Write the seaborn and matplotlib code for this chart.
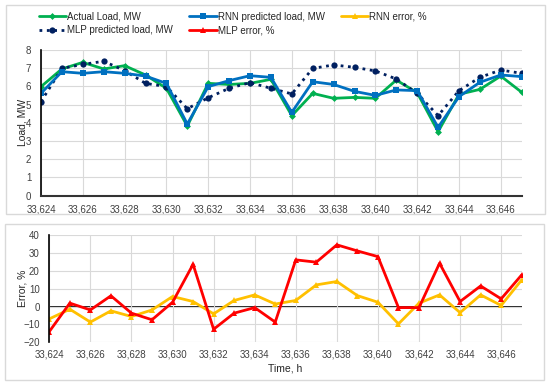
import matplotlib
matplotlib.use("Agg")
import matplotlib.pyplot as plt
import matplotlib.patches as patches
import numpy as np
import pandas as pd
import seaborn as sns

# data
hours = list(range(33624, 33648))
actual_load = [5.98, 6.95, 7.31, 6.95, 7.13, 6.62, 5.89, 3.82, 6.16, 6.10, 6.16, 6.38,
               4.39, 5.61, 5.34, 5.39, 5.34, 6.34, 5.65, 3.51, 5.56, 5.83, 6.56, 5.67]
rnn_load = [5.61, 6.80, 6.71, 6.80, 6.71, 6.56, 6.16, 3.93, 5.98, 6.31, 6.58, 6.49,
            4.57, 6.25, 6.10, 5.72, 5.50, 5.80, 5.76, 3.75, 5.43, 6.22, 6.62, 6.53]
mlp_load = [5.16, 6.98, 7.20, 7.37, 6.86, 6.16, 5.98, 4.77, 5.37, 5.89, 6.20, 5.89,
            5.58, 6.98, 7.17, 7.04, 6.84, 6.40, 5.61, 4.39, 5.76, 6.49, 6.89, 6.71]
rnn_error = [-6.9, -1.5, -8.7, -2.4, -5.6, -1.9, 5.6, 2.8, -4.1, 3.4, 6.5, 1.4,
             3.4, 12.1, 14.0, 6.1, 2.4, -9.7, 1.9, 6.5, -3.4, 6.5, 0.6, 14.9]
mlp_error = [-14.0, 1.9, -1.9, 6.0, -3.7, -7.4, 2.4, 23.6, -12.7, -3.7, -0.6, -8.7,
             26.1, 24.8, 34.5, 31.1, 27.9, -0.6, -0.6, 24.2, 2.8, 11.5, 4.3, 17.7]

tick_hours = hours[::2]
tick_labels = [f"{h:,}" for h in tick_hours]

df = pd.DataFrame({"hour": hours, "actual": actual_load, "rnn": rnn_load, "mlp": mlp_load,
                   "rnn_err": rnn_error, "mlp_err": mlp_error})

sns.set_style("white")
plt.rcParams['font.family'] = ['Liberation Sans', 'DejaVu Sans']

fig = plt.figure(figsize=(5.5, 3.86), dpi=100)
W, H = 550.0, 386.0

# panel frames
for (x0, y0, x1, y1) in [(6, 5, 545, 214), (5, 224, 544, 380)]:
    fig.patches.append(patches.Rectangle((x0 / W, 1 - y1 / H), (x1 - x0) / W, (y1 - y0) / H,
                                         transform=fig.transFigure, fill=False,
                                         edgecolor="#d9d9d9", linewidth=1.0))

grid_c = "#d9d9d9"
green = "#00b050"
blue = "#0070c0"
navy = "#002060"
yellow = "#ffc000"
red = "#ff0000"
tick_c = "#404040"

# top chart: load
ax1 = fig.add_axes([41 / W, 1 - 195.7 / H, (521.7 - 41) / W, (195.7 - 49.8) / H])
sns.lineplot(data=df, x="hour", y="actual", ax=ax1, color=green, lw=2, marker="D",
             markersize=3.5, markeredgewidth=0, label="Actual Load, MW")
sns.lineplot(data=df, x="hour", y="mlp", ax=ax1, color=navy, lw=2, ls=":", marker="o",
             markersize=4.5, markeredgewidth=0, label="MLP predicted load, MW")
sns.lineplot(data=df, x="hour", y="rnn", ax=ax1, color=blue, lw=2, marker="s",
             markersize=4.5, markeredgewidth=0, label="RNN predicted load, MW")
ax1.set_xlim(hours[0], hours[-1])
ax1.set_ylim(0, 8)
ax1.set_xticks(tick_hours)
ax1.set_xticklabels(tick_labels)
ax1.set_yticks(range(0, 9))
ax1.set_xlabel("")
ax1.set_ylabel("Load, MW", fontsize=7.5, labelpad=-1)
ax1.grid(True, color=grid_c, lw=0.8)
ax1.set_axisbelow(True)
for s in ["top", "right"]:
    ax1.spines[s].set_visible(False)
ax1.spines["left"].set_color("black")
ax1.spines["left"].set_linewidth(1.2)
ax1.spines["bottom"].set_color("#333333")
ax1.spines["bottom"].set_linewidth(1.5)
ax1.tick_params(axis="both", length=0, labelsize=7, colors=tick_c)
ax1.tick_params(axis="x", pad=6)
ax1.tick_params(axis="y", pad=7)
h1, l1 = ax1.get_legend_handles_labels()
ax1.get_legend().remove()

# bottom chart: error
ax2 = fig.add_axes([49.3 / W, 1 - 342.3 / H, (521.7 - 49.3) / W, (342.3 - 235) / H])
sns.lineplot(data=df, x="hour", y="mlp_err", ax=ax2, color=red, lw=2, marker="^",
             markersize=5, markeredgewidth=0, label="MLP error, %")
sns.lineplot(data=df, x="hour", y="rnn_err", ax=ax2, color=yellow, lw=2, marker="^",
             markersize=5, markeredgewidth=0, label="RNN error, %", zorder=1)
ax2.axhline(0, color="black", lw=1.2, zorder=0.5)
ax2.set_xlim(hours[0], hours[-1])
ax2.set_ylim(-20, 40)
ax2.set_xticks(tick_hours)
ax2.set_xticklabels(tick_labels)
ax2.set_yticks(range(-20, 41, 10))
ax2.set_xlabel("Time, h", fontsize=7.5, labelpad=3)
ax2.set_ylabel("Error, %", fontsize=7.5, labelpad=-3)
ax2.grid(True, color=grid_c, lw=0.8)
ax2.set_axisbelow(True)
for s in ["top", "right", "bottom"]:
    ax2.spines[s].set_visible(False)
ax2.spines["left"].set_color("black")
ax2.spines["left"].set_linewidth(1.2)
ax2.tick_params(axis="both", length=0, labelsize=7, colors=tick_c)
ax2.tick_params(axis="x", pad=5)
ax2.tick_params(axis="y", pad=7)
h2, l2 = ax2.get_legend_handles_labels()
ax2.get_legend().remove()

# legend: Actual / MLP pred (col1), RNN pred / MLP err (col2), RNN err (col3)
handles = [h1[0], h1[1], h1[2], h2[0], h2[1]]
labels = [l1[0], l1[1], l1[2], l2[0], l2[1]]
fig.legend(handles, labels, ncol=3, loc="upper left", bbox_to_anchor=(35 / W, 1 - 8 / H),
           frameon=False, fontsize=7, handlelength=2.8, handletextpad=0.1,
           columnspacing=1.7, labelspacing=0.35, borderaxespad=0)

fig.savefig("out.png", dpi=100)
